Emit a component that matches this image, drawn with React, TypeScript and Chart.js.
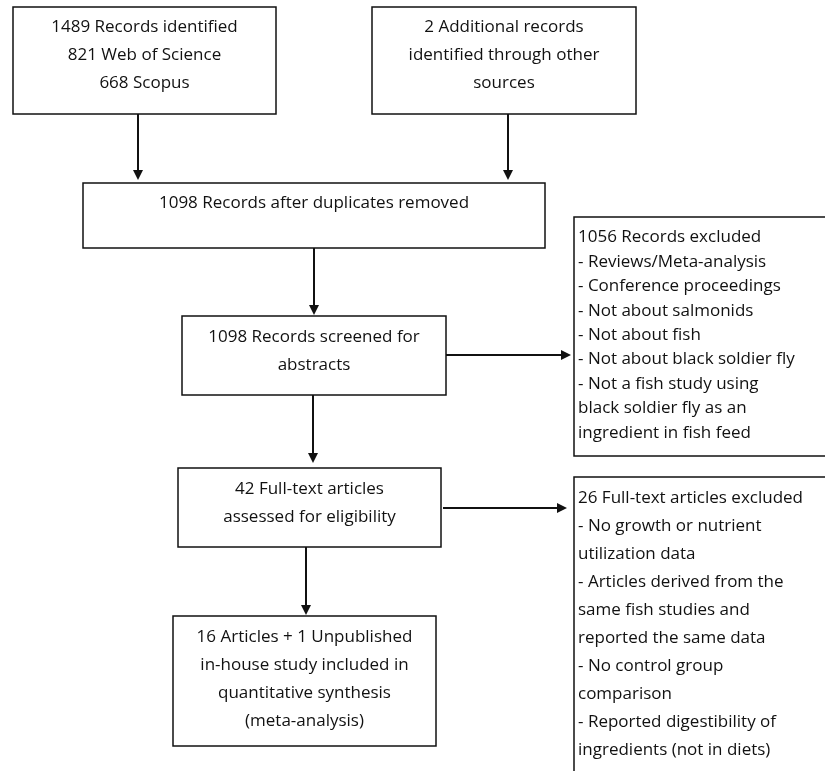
import { useEffect, useRef } from "react";
import { Chart, registerables } from "chart.js";

Chart.register(...registerables);

// box ids and their text lines
const boxIds = ["src1", "src2", "dedup", "screen", "excl1", "full", "excl2", "incl"];
const boxText: string[][] = [
  ["1489 Records identified", "821 Web of Science", "668 Scopus"],
  ["2 Additional records", "identified through other", "sources"],
  ["1098 Records after duplicates removed"],
  ["1098 Records screened for", "abstracts"],
  [
    "1056 Records excluded",
    "- Reviews/Meta-analysis",
    "- Conference proceedings",
    "- Not about salmonids",
    "- Not about fish",
    "- Not about black soldier fly",
    "- Not a fish study using",
    "black soldier fly as an",
    "ingredient in fish feed",
  ],
  ["42 Full-text articles", "assessed for eligibility"],
  [
    "26 Full-text articles excluded",
    "- No growth or nutrient",
    "utilization data",
    "- Articles derived from the",
    "same fish studies and",
    "reported the same data",
    "- No control group",
    "comparison",
    "- Reported digestibility of",
    "ingredients (not in diets)",
  ],
  ["16 Articles + 1 Unpublished", "in-house study included in", "quantitative synthesis", "(meta-analysis)"],
];
// box extents in chart units: [x1, y1, x2, y2]
const boxRects: number[][] = [
  [13, 7, 276, 114],
  [372, 7, 636, 114],
  [83, 183, 545, 248],
  [182, 316, 446, 395],
  [574, 217, 830, 456],
  [178, 468, 441, 547],
  [574, 477, 830, 780],
  [173, 616, 436, 746],
];
const boxAlign = ["center", "center", "center", "center", "left", "center", "left", "center"];
const boxFirstLine = [27.5, 27.5, 203, 337, 237.5, 489, 498, 637];
const boxLineGap = [28, 28, 28, 28, 24.4, 28, 28, 28];
// arrows: [x1, y1, x2, y2]
const arrows: number[][] = [
  [138, 114, 138, 180],
  [508, 114, 508, 180],
  [314, 248, 314, 315],
  [446, 355, 571, 355],
  [313, 395, 313, 463],
  [443, 508, 567, 508],
  [306, 547, 306, 615],
];

const flowPlugin = {
  id: "flow",
  afterDraw(chart: any) {
    const ctx = chart.ctx as CanvasRenderingContext2D;
    const xs = chart.scales.x;
    const ys = chart.scales.y;
    const px = (v: number) => xs.getPixelForValue(v);
    const py = (v: number) => ys.getPixelForValue(v);
    ctx.save();
    ctx.strokeStyle = "#111";
    ctx.fillStyle = "#111";
    ctx.lineWidth = 1.5;
    ctx.font = '17px "Open Sans", sans-serif';
    ctx.textBaseline = "middle";
    boxIds.forEach((_, i) => {
      const [x1, y1, x2, y2] = boxRects[i];
      ctx.strokeRect(px(x1), py(y1), px(x2) - px(x1), py(y2) - py(y1));
      const left = boxAlign[i] === "left";
      ctx.textAlign = left ? "left" : "center";
      boxText[i].forEach((t, j) => {
        ctx.fillText(t, left ? px(x1 + 4) : px((x1 + x2) / 2), py(boxFirstLine[i] + j * boxLineGap[i]));
      });
    });
    ctx.lineWidth = 2;
    arrows.forEach(([x1, y1, x2, y2]) => {
      const a = px(x1), b = py(y1), c = px(x2), d = py(y2);
      const ang = Math.atan2(d - b, c - a);
      ctx.beginPath();
      ctx.moveTo(a, b);
      ctx.lineTo(c - 8 * Math.cos(ang), d - 8 * Math.sin(ang));
      ctx.stroke();
      ctx.beginPath();
      ctx.moveTo(c, d);
      ctx.lineTo(c - 10 * Math.cos(ang) + 5 * Math.sin(ang), d - 10 * Math.sin(ang) - 5 * Math.cos(ang));
      ctx.lineTo(c - 10 * Math.cos(ang) - 5 * Math.sin(ang), d - 10 * Math.sin(ang) + 5 * Math.cos(ang));
      ctx.closePath();
      ctx.fill();
    });
    ctx.restore();
  },
};

export default function App() {
  const canvasRef = useRef<HTMLCanvasElement | null>(null);

  useEffect(() => {
    document.body.style.margin = "0";
    if (!canvasRef.current) return;
    const chart = new Chart(canvasRef.current, {
      type: "scatter",
      data: { datasets: [{ data: [], pointRadius: 0 }] },
      options: {
        animation: false,
        responsive: false,
        layout: { padding: 0 },
        plugins: { legend: { display: false }, tooltip: { enabled: false } },
        scales: {
          x: { type: "linear", min: 0, max: 825, display: false },
          y: { type: "linear", min: 0, max: 771, reverse: true, display: false },
        },
      },
      plugins: [flowPlugin],
    });
    return () => chart.destroy();
  }, []);

  return (
    <div style={{ width: 825, height: 771, background: "#fff" }}>
      <canvas ref={canvasRef} width={825} height={771} />
    </div>
  );
}
